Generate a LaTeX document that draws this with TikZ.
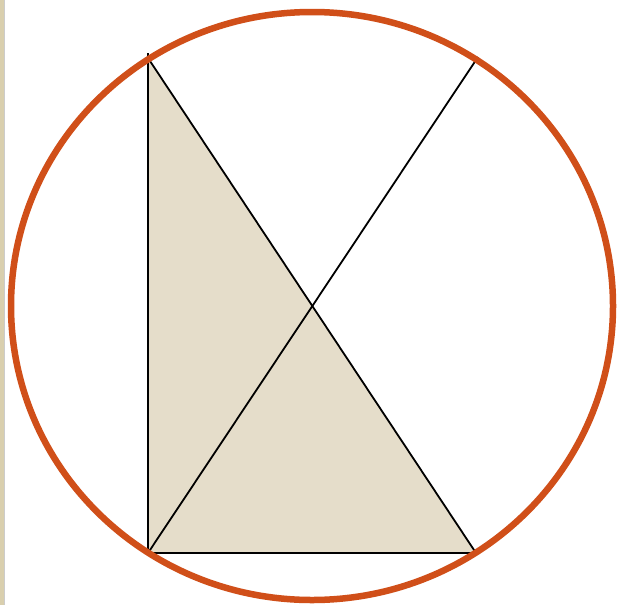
\documentclass[tikz,border=0pt]{standalone}
\definecolor{rim}{HTML}{D04F19}
\definecolor{sand}{HTML}{E5DDCA}
\definecolor{strip}{HTML}{D9CFAE}
\tikzset{
  rimline/.style={draw=rim, line width=6.5pt},
  edge/.style={draw=black, line width=1.8pt},
}
\begin{document}
\begin{tikzpicture}[x=1pt,y=-1pt]
\useasboundingbox (0,0) rectangle (617,605);
\fill[white] (0,0) rectangle (617,605);
\fill[strip] (0,0) rectangle (4,605);
\draw[gray!40, line width=1pt] (4.5,0) -- (4.5,605);
\coordinate (O) at (312,306);
\coordinate (A) at (148,58);
\coordinate (Atop) at (148,53);
\coordinate (B) at (148,553);
\coordinate (C) at (476,553);
\coordinate (D) at (478,57);
\fill[sand] (A) -- (B) -- (C) -- cycle;
\draw[edge] (Atop) -- (B) -- (C);
\draw[edge] (A) -- (C);
\draw[edge] (B) -- (D);
\draw[rimline] (O) ellipse [x radius=301, y radius=294];
\end{tikzpicture}
\end{document}
